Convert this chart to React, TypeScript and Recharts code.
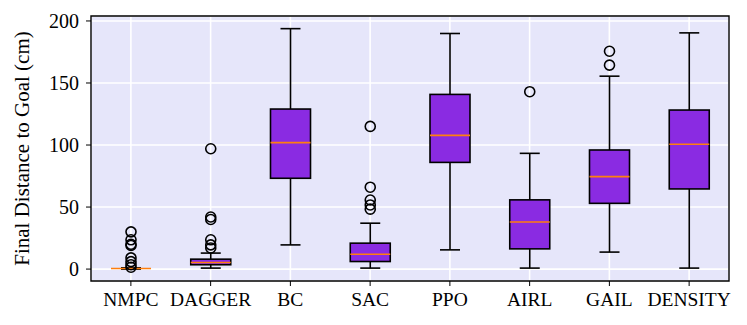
import React from 'react';
import { ComposedChart, Bar, XAxis, YAxis, CartesianGrid, ReferenceArea } from 'recharts';

const categories = ['NMPC', 'DAGGER', 'BC', 'SAC', 'PPO', 'AIRL', 'GAIL', 'DENSITY'];
const whiskerLow = [0, 0.8, 19.5, 0.8, 15.5, 0.8, 13.7, 0.8];
const q1 = [0.4, 3.5, 73.2, 6.1, 86, 16.3, 53, 64.6];
const median = [0.5, 5.3, 101.9, 12, 107.8, 38, 74.5, 100.6];
const q3 = [0.6, 8, 129, 20.9, 140.8, 55.8, 96, 128.2];
const whiskerHigh = [1.0, 12.9, 193.8, 37, 189.9, 93.3, 155.5, 190.4];
const outliers: number[][] = [
  [30, 23.6, 20, 19, 9, 6, 3.5, 1.5],
  [97, 42, 40, 23.6, 19.5, 17],
  [],
  [115, 66, 55.7, 51.7, 48.3],
  [],
  [143],
  [175.6, 164.4],
  [],
];
const yTicks = [0, 50, 100, 150, 200];
const yDomain = [-9.6, 204];

const data = categories.map((name, i) => {
  const hi = Math.max(whiskerHigh[i], ...outliers[i]);
  return {
    name,
    range: [whiskerLow[i], hi],
    lo: whiskerLow[i],
    hi,
    q1: q1[i],
    med: median[i],
    q3: q3[i],
    wHigh: whiskerHigh[i],
    out: outliers[i],
  };
});

const FONT = '"Liberation Serif", "Times New Roman", serif';

const BoxShape = (props: any) => {
  const { x, y, width, height, payload } = props;
  const top = Math.min(y, y + height);
  const bottom = Math.max(y, y + height);
  const lo = payload.lo;
  const hi = payload.hi;
  const toPx = (v: number) => bottom - ((v - lo) / (hi - lo)) * (bottom - top);
  const cx = x + width / 2;
  const bw = width;
  const capW = bw / 2;
  const yq1 = toPx(payload.q1);
  const yq3 = toPx(payload.q3);
  const ymed = toPx(payload.med);
  const ylo = toPx(payload.lo);
  const ywh = toPx(payload.wHigh);
  const sw = 1.6;
  const tiny = yq1 - yq3 < 2;
  return (
    <g>
      <line x1={cx} x2={cx} y1={ylo} y2={yq1} stroke="#000" strokeWidth={sw} />
      <line x1={cx} x2={cx} y1={yq3} y2={ywh} stroke="#000" strokeWidth={sw} />
      <line x1={cx - capW / 2} x2={cx + capW / 2} y1={ylo} y2={ylo} stroke="#000" strokeWidth={sw} />
      <line x1={cx - capW / 2} x2={cx + capW / 2} y1={ywh} y2={ywh} stroke="#000" strokeWidth={sw} />
      {!tiny && (
        <rect x={cx - bw / 2} y={yq3} width={bw} height={Math.max(0, yq1 - yq3)} fill="#8A2BE2" stroke="#000" strokeWidth={sw} />
      )}
      <line x1={cx - bw / 2} x2={cx + bw / 2} y1={ymed} y2={ymed} stroke="#FF7F0E" strokeWidth={sw} />
      {payload.out.map((v: number, k: number) => (
        <circle key={k} cx={cx} cy={toPx(v)} r={5} fill="none" stroke="#000" strokeWidth={1.6} />
      ))}
    </g>
  );
};

const YLabel = (props: any) => {
  const vb = props.viewBox || {};
  const cy = vb.y + vb.height / 2;
  const cx = 22;
  return (
    <text
      x={cx}
      y={cy}
      transform={`rotate(-90 ${cx} ${cy})`}
      textAnchor="middle"
      dominantBaseline="central"
      fontFamily={FONT}
      fontSize={21}
      fill="#000"
    >
      Final Distance to Goal (cm)
    </text>
  );
};

export default function App() {
  return (
    <div style={{ position: 'absolute', left: 0, top: 0, width: 747, height: 325, background: '#fff' }}>
      <ComposedChart
        width={747}
        height={325}
        data={data}
        margin={{ top: 16, right: 18, bottom: 0, left: 0 }}
      >
        <CartesianGrid stroke="#FFFFFF" strokeWidth={1.6} fill="#E6E6FA" fillOpacity={1} />
        <XAxis
          dataKey="name"
          type="category"
          height={44}
          tickSize={5}
          tickLine={{ stroke: '#000', strokeWidth: 1 }}
          axisLine={false}
          tick={{ fontFamily: FONT, fontSize: 19.5, fill: '#000', dy: 4 }}
          interval={0}
        />
        <YAxis
          type="number"
          domain={yDomain}
          ticks={yTicks}
          width={91}
          tickSize={5}
          tickLine={{ stroke: '#000', strokeWidth: 1 }}
          axisLine={false}
          tick={{ fontFamily: FONT, fontSize: 20, fill: '#000', dx: -5 }}
          allowDataOverflow
          label={<YLabel />}
        />
        <Bar dataKey="range" barSize={40} shape={<BoxShape />} isAnimationActive={false} />
        <ReferenceArea
          y1={yDomain[0]}
          y2={yDomain[1]}
          fill="none"
          fillOpacity={0}
          stroke="#000"
          strokeWidth={1.4}
          ifOverflow="visible"
        />
      </ComposedChart>
    </div>
  );
}
